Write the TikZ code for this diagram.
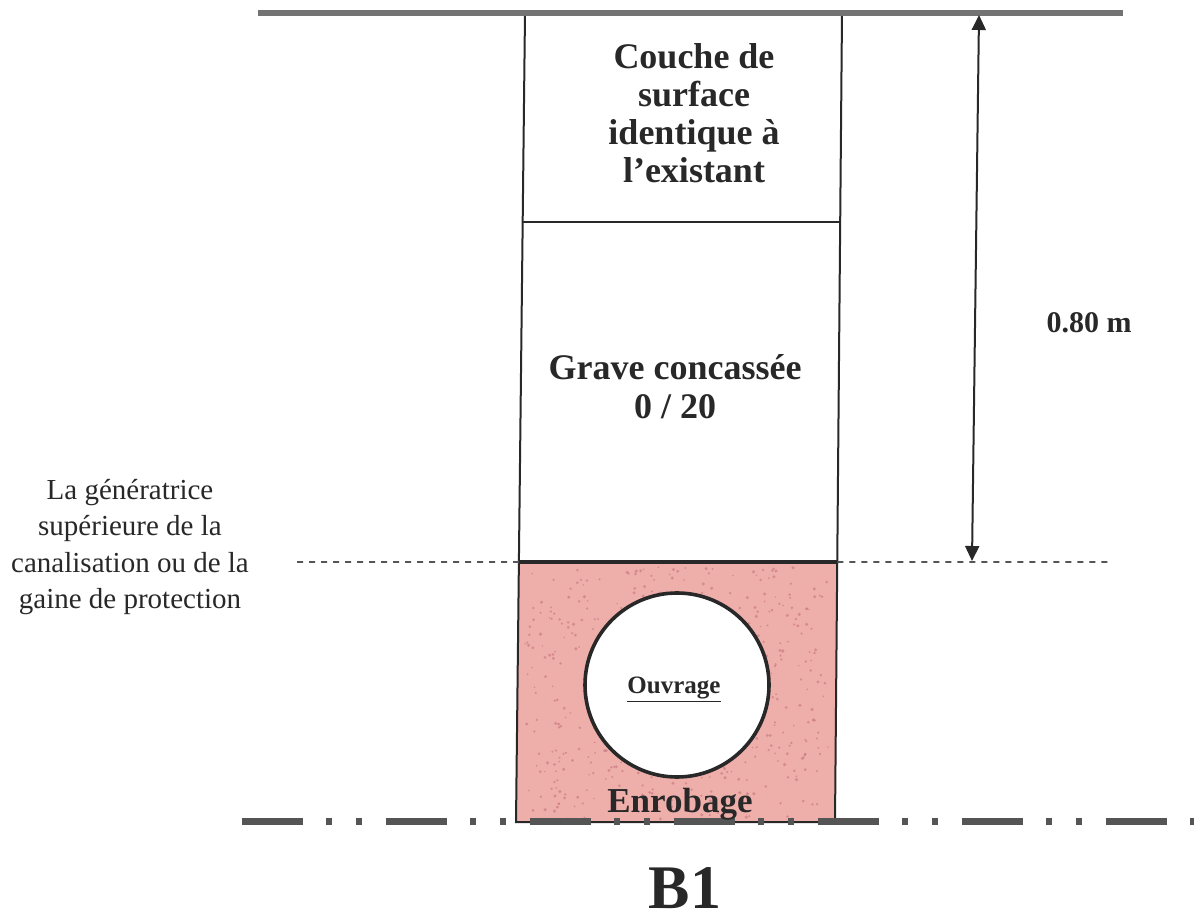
\documentclass[tikz,border=0pt]{standalone}
\usepackage{fontspec}
\setmainfont{Liberation Serif}
\usetikzlibrary{calc,arrows.meta}
\definecolor{inkc}{RGB}{40,40,40}
\definecolor{surfc}{RGB}{115,115,115}
\definecolor{axisc}{RGB}{85,85,85}
\definecolor{pinkc}{RGB}{238,174,170}
\definecolor{speckc}{RGB}{190,105,115}
\begin{document}
\begin{tikzpicture}[x=0.5pt,y=-0.5pt,
  lbl/.style={text=inkc,inner sep=0pt,align=center},
  boxline/.style={draw=inkc,line width=1pt},
  dimarrow/.style={draw=inkc,line width=1pt,{Triangle[width=7pt,length=7.5pt]}-{Triangle[width=7pt,length=7.5pt]}}]
\useasboundingbox (0,0) rectangle (1194,924);
\fill[white] (0,0) rectangle (1194,924);
% corners of the trench column
\coordinate (tl) at (525,13);
\coordinate (bl) at (516,822);
\coordinate (tr) at (842,13);
\coordinate (br) at (835,822);
\coordinate (dl) at ($(tl)!0.2583!(bl)$);
\coordinate (dr) at ($(tr)!0.2583!(br)$);
\coordinate (gl) at ($(tl)!0.6786!(bl)$);
\coordinate (gr) at ($(tr)!0.6786!(br)$);
% pink bedding
\fill[pinkc] (gl) -- (gr) -- (br) -- (bl) -- cycle;
\pgfmathsetseed{7}
\foreach \i in {1,...,520}{
  \pgfmathsetmacro{\px}{677+152*rand}
  \pgfmathsetmacro{\py}{693+126*rand}
  \pgfmathsetmacro{\pr}{0.8+1.0*rnd}
  \fill[speckc,opacity=0.5] (\px,\py) circle[radius=\pr];
}
% column outline
\draw[boxline] (tl) -- (bl) -- (br) -- (tr);
\draw[boxline] (dl) -- (dr);
\draw[draw=inkc,line width=1.6pt] (gl) -- (gr);
% surface line
\coordinate (sl) at (258,13);
\coordinate (sr) at (1123,13);
\draw[surfc,line width=2.6pt] (sl) -- (sr);
% dashed line (top of pipe)
\coordinate (ql) at (297,562);
\coordinate (qr) at (1110,562);
\draw[axisc,line width=0.8pt,dash pattern=on 3pt off 3pt] (ql) -- (gl);
\draw[axisc,line width=0.8pt,dash pattern=on 3pt off 3pt] (gr) -- (qr);
% bottom axis line
\coordinate (al) at (242,821);
\coordinate (ar) at (1194,821);
\draw[axisc,line width=3.5pt,dash pattern=on 30.5pt off 11.5pt on 3pt off 12pt on 3pt off 12pt] (al) -- (ar);
% dimension arrow
\coordinate (atop) at (979,15);
\coordinate (abot) at (972,561);
\draw[dimarrow] (atop) -- (abot);
% pipe
\node[circle,draw=inkc,fill=white,line width=1.8pt,minimum size=92pt,inner sep=0pt] (pipe) at (677,685) {};
% texts
\node[lbl,font=\fontsize{18}{19}\selectfont\bfseries] (couche) at (694,113) {Couche de\\surface\\identique à\\l’existant};
\node[lbl,font=\fontsize{18}{19.5}\selectfont\bfseries] (grave) at (675,387) {Grave concassée\\0 / 20};
\node[lbl,font=\fontsize{14.5}{18.2}\selectfont] (gen) at (130,547) {La génératrice\\supérieure de la\\canalisation ou de la\\gaine de protection};
\node[lbl,anchor=base,font=\fontsize{15}{18}\selectfont\bfseries] (dim) at (1089,333) {0.80 m};
\node[lbl,anchor=base,font=\fontsize{12.5}{15}\selectfont\bfseries] (ouv) at (674,693) {\underline{Ouvrage}};
\node[lbl,anchor=base,font=\fontsize{17.5}{20}\selectfont\bfseries] (enr) at (680,812) {Enrobage};
\node[lbl,anchor=base,font=\fontsize{31}{33}\selectfont\bfseries] (b1) at (685,908) {B1};
\end{tikzpicture}
\end{document}
